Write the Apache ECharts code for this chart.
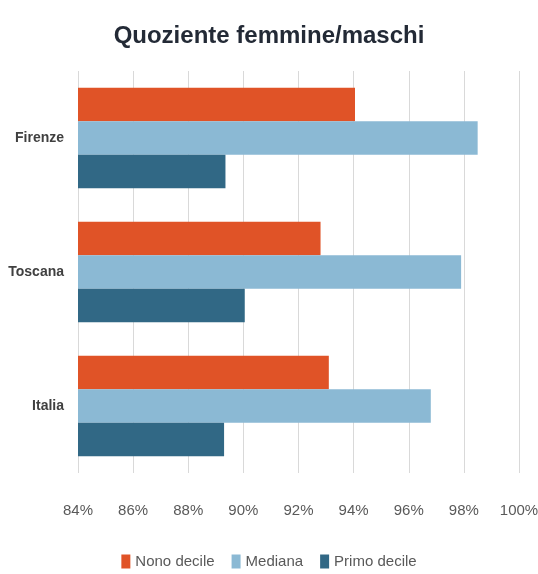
<!DOCTYPE html>
<html>
<head>
<meta charset="utf-8">
<script src="https://cdn.jsdelivr.net/npm/echarts@6/dist/echarts.min.js"></script>
<style>
  html, body { margin: 0; padding: 0; background: #fff; }
  #chart { width: 538px; height: 574px; }
</style>
</head>
<body>
<div id="chart"></div>
<script>
  // dati (valori in %)
  var categories = ['Firenze', 'Toscana', 'Italia'];
  var nonoDecile = [94.05, 92.8, 93.1];
  var mediana = [98.5, 97.9, 96.8];
  var primoDecile = [89.35, 90.05, 89.3];
  var xTicks = [84, 86, 88, 90, 92, 94, 96, 98, 100];

  // niente font "narrow" disponibile: Liberation Sans un po' più piccolo
  var sans = '"Liberation Sans", Arial, sans-serif';

  var chart = echarts.init(document.getElementById('chart'));
  chart.setOption({
    animation: false,
    title: {
      text: 'Quoziente femmine/maschi',
      left: 'center',
      top: 19,
      textStyle: {
        fontFamily: sans,
        fontWeight: 'bold',
        fontSize: 24,
        color: '#232a36'
      }
    },
    legend: {
      data: ['Nono decile', 'Mediana', 'Primo decile'],
      bottom: 5,
      left: 'center',
      padding: 0,
      itemWidth: 9,
      itemHeight: 14,
      itemGap: 17,
      icon: 'rect',
      textStyle: { fontFamily: sans, fontSize: 15, color: '#595959' }
    },
    grid: { left: 78, right: 19, top: 71, bottom: 101, outerBoundsMode: 'none' },
    xAxis: {
      type: 'value',
      min: xTicks[0],
      max: xTicks[xTicks.length - 1],
      interval: 2,
      axisLine: { show: false },
      axisTick: { show: false },
      splitLine: { lineStyle: { color: '#d9d9d9', width: 1 } },
      axisLabel: {
        formatter: '{value}%',
        margin: 30,
        fontFamily: sans,
        fontSize: 15,
        color: '#595959'
      }
    },
    yAxis: {
      type: 'category',
      data: categories,
      inverse: true,
      axisLine: { show: false },
      axisTick: { show: false },
      axisLabel: {
        margin: 14,
        fontFamily: sans,
        fontWeight: 'bold',
        fontSize: 14,
        color: '#404040'
      }
    },
    series: [
      { name: 'Nono decile', type: 'bar', data: nonoDecile, barGap: '0%', barCategoryGap: '25%',
        itemStyle: { color: '#e05327' } },
      { name: 'Mediana', type: 'bar', data: mediana, barGap: '0%', barCategoryGap: '25%',
        itemStyle: { color: '#8bb9d4' } },
      { name: 'Primo decile', type: 'bar', data: primoDecile, barGap: '0%', barCategoryGap: '25%',
        itemStyle: { color: '#316885' } }
    ]
  });
</script>
</body>
</html>
